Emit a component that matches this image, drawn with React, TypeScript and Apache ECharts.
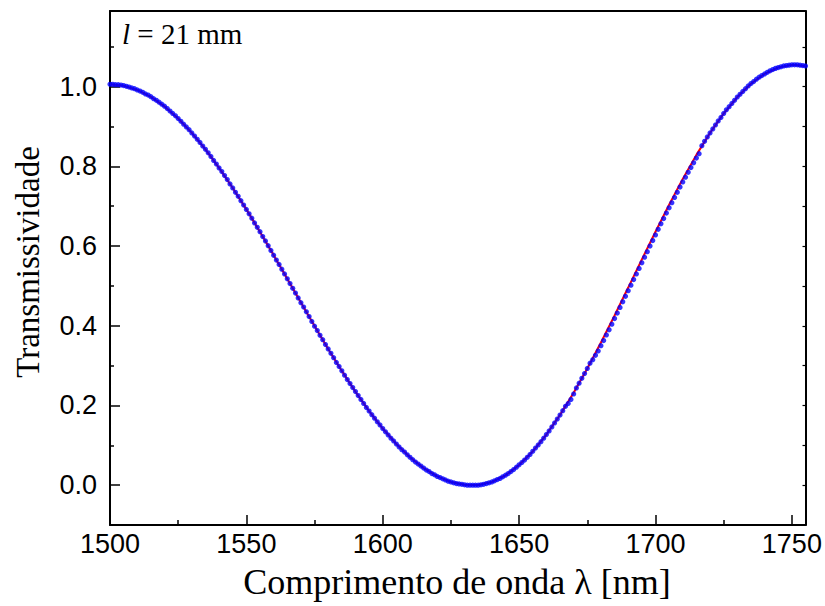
import React, { useEffect, useRef } from "react";
import * as echarts from "echarts";

// Measured data: transmissivity sampled every 1 nm from 1500 nm
const LAMBDA_START = 1500;
const LAMBDA_STEP = 1;
const transmissivity: number[] = [
  1.006, 1.006, 1.005, 1.005, 1.004, 1.003, 1.001, 0.999, 0.997, 0.995,
  0.992, 0.989, 0.986, 0.982, 0.979, 0.975, 0.970, 0.966, 0.961, 0.956,
  0.951, 0.945, 0.939, 0.933, 0.927, 0.920, 0.913, 0.906, 0.899, 0.892,
  0.884, 0.876, 0.868, 0.860, 0.851, 0.843, 0.834, 0.825, 0.815, 0.806,
  0.796, 0.787, 0.777, 0.767, 0.756, 0.746, 0.735, 0.725, 0.714, 0.703,
  0.692, 0.681, 0.670, 0.658, 0.647, 0.636, 0.624, 0.613, 0.601, 0.589,
  0.577, 0.565, 0.554, 0.542, 0.530, 0.518, 0.506, 0.494, 0.482, 0.470,
  0.458, 0.447, 0.435, 0.423, 0.411, 0.399, 0.388, 0.376, 0.365, 0.353,
  0.342, 0.331, 0.320, 0.308, 0.298, 0.287, 0.276, 0.265, 0.255, 0.245,
  0.235, 0.225, 0.215, 0.205, 0.195, 0.186, 0.177, 0.168, 0.159, 0.151,
  0.142, 0.134, 0.126, 0.118, 0.111, 0.103, 0.096, 0.089, 0.083, 0.076,
  0.070, 0.064, 0.058, 0.053, 0.048, 0.043, 0.038, 0.034, 0.029, 0.026,
  0.022, 0.019, 0.016, 0.013, 0.010, 0.008, 0.006, 0.004, 0.003, 0.002,
  0.001, 0.000, 0.000,
  // 1633 nm onward
  0.000, 0.000, 0.000, 0.001, 0.002, 0.004, 0.006, 0.008,
  0.011, 0.014, 0.017, 0.021, 0.025, 0.029, 0.034, 0.039, 0.045, 0.051,
  0.057, 0.063, 0.070, 0.077, 0.085, 0.093, 0.101, 0.109, 0.118, 0.127,
  0.136, 0.146, 0.156, 0.166, 0.176, 0.187, 0.198, 0.205, 0.215, 0.229,
  0.244, 0.256, 0.268, 0.280, 0.293, 0.306, 0.315, 0.326, 0.337, 0.350,
  0.363, 0.377, 0.390, 0.404, 0.418, 0.432, 0.446, 0.460, 0.474, 0.488,
  0.502, 0.516, 0.530, 0.544, 0.558, 0.572, 0.586, 0.600, 0.614, 0.628,
  0.642, 0.656, 0.669, 0.683, 0.696, 0.709, 0.722, 0.735, 0.748, 0.761,
  0.773, 0.785, 0.797, 0.809, 0.821, 0.832, 0.852, 0.863, 0.874, 0.884,
  0.894, 0.904, 0.914, 0.923, 0.933, 0.942, 0.950, 0.958, 0.966, 0.974,
  0.981, 0.988, 0.995, 1.002, 1.008, 1.013, 1.019, 1.024, 1.028, 1.032,
  1.036, 1.040, 1.043, 1.046, 1.048, 1.050, 1.052, 1.053, 1.054, 1.055,
  1.055, 1.055, 1.054, 1.053, 1.052,
];

// Fitted curve (red), every 5 nm
const fitWavelengths: number[] = [
  1500, 1505, 1510, 1515, 1520, 1525, 1530, 1535, 1540, 1545, 1550, 1555, 1560,
  1565, 1570, 1575, 1580, 1585, 1590, 1595, 1600, 1605, 1610, 1615, 1620, 1625,
  1630, 1635, 1640, 1645, 1650, 1655, 1660, 1665, 1670, 1675, 1680, 1685, 1690,
  1695, 1700, 1705, 1710, 1715, 1720, 1725, 1730, 1735, 1740, 1745, 1750, 1755,
];
const fitValues: number[] = [
  1.006, 1.0025, 0.9919, 0.9745, 0.9505, 0.9202, 0.8842, 0.8425, 0.7963, 0.7459,
  0.6921, 0.6356, 0.5773, 0.5179, 0.4583, 0.3994, 0.3419, 0.2867, 0.2345, 0.186,
  0.1421, 0.1033, 0.0699, 0.0427, 0.0219, 0.0079, 0.0009, 0.0004, 0.0079, 0.0248,
  0.0505, 0.0848, 0.127, 0.1764, 0.2319, 0.2928, 0.3579, 0.4259, 0.4959, 0.5663,
  0.6361, 0.7039, 0.7686, 0.8289, 0.884, 0.9327, 0.9741, 1.0075, 1.0324, 1.0482,
  1.0548, 1.052,
];

const X_MIN = 1500;
const X_MAX = 1755;
const Y_MIN = -0.1;
const Y_MAX = 1.19;
const X_MAJOR = [1500, 1550, 1600, 1650, 1700, 1750];
const X_MINOR = [1525, 1575, 1625, 1675, 1725];
const Y_MAJOR = [0, 0.2, 0.4, 0.6, 0.8, 1.0];
const Y_MINOR = [0.1, 0.3, 0.5, 0.7, 0.9, 1.1];
const Y_RIGHT = [0, 0.1, 0.2, 0.3, 0.4, 0.5, 0.6, 0.7, 0.8, 0.9, 1.0, 1.1];

const X_TITLE = "Comprimento de onda λ [nm]";
const Y_TITLE = "Transmissividade";

const SANS = "'Liberation Sans', Arial, Helvetica, sans-serif";
const SERIF = "'Liberation Serif', 'Times New Roman', Times, serif";

export default function App() {
  const ref = useRef<HTMLDivElement>(null);

  useEffect(() => {
    if (!ref.current) return;
    const chart = echarts.init(ref.current, null, { renderer: "svg" });

    const points = transmissivity.map((t, i) => [LAMBDA_START + i * LAMBDA_STEP, t]);
    const fit = fitWavelengths.map((w, i) => [w, fitValues[i]]);

    const black = "#000";
    const baseX = {
      type: "value" as const,
      min: X_MIN,
      max: X_MAX,
      gridIndex: 0,
      splitLine: { show: false },
    };
    const baseY = {
      type: "value" as const,
      min: Y_MIN,
      max: Y_MAX,
      gridIndex: 0,
      splitLine: { show: false },
    };

    chart.setOption({
      animation: false,
      backgroundColor: "#fff",
      grid: {
        left: 110,
        right: 19.5,
        top: 11,
        bottom: 81,
        containLabel: false,
        outerBoundsMode: "none",
      },
      xAxis: [
        {
          ...baseX,
          position: "bottom",
          axisLine: { show: true, onZero: false, lineStyle: { color: black, width: 2 } },
          axisTick: {
            show: true,
            inside: true,
            length: 10,
            lineStyle: { color: black, width: 1.5 },
            customValues: X_MAJOR,
          },
          axisLabel: {
            show: true,
            customValues: X_MAJOR,
            color: black,
            fontSize: 27,
            fontFamily: SANS,
            margin: 5,
            formatter: (v: number) => String(v),
          },
        },
        {
          ...baseX,
          position: "bottom",
          axisLine: { show: false, onZero: false },
          axisTick: {
            show: true,
            inside: true,
            length: 5,
            lineStyle: { color: black, width: 1.5 },
            customValues: X_MINOR,
          },
          axisLabel: { show: false },
        },
        {
          ...baseX,
          position: "top",
          axisLine: { show: true, onZero: false, lineStyle: { color: black, width: 2 } },
          axisTick: { show: false },
          axisLabel: { show: false },
        },
      ],
      yAxis: [
        {
          ...baseY,
          position: "left",
          axisLine: { show: true, onZero: false, lineStyle: { color: black, width: 2 } },
          axisTick: {
            show: true,
            inside: true,
            length: 10,
            lineStyle: { color: black, width: 1.5 },
            customValues: Y_MAJOR,
          },
          axisLabel: {
            show: true,
            customValues: Y_MAJOR,
            color: black,
            fontSize: 27,
            fontFamily: SANS,
            margin: 13,
            formatter: (v: number) => v.toFixed(1),
          },
        },
        {
          ...baseY,
          position: "left",
          axisLine: { show: false, onZero: false },
          axisTick: {
            show: true,
            inside: true,
            length: 4,
            lineStyle: { color: black, width: 1.5 },
            customValues: Y_MINOR,
          },
          axisLabel: { show: false },
        },
        {
          ...baseY,
          position: "right",
          axisLine: { show: true, onZero: false, lineStyle: { color: black, width: 2 } },
          axisTick: {
            show: true,
            inside: true,
            length: 3,
            lineStyle: { color: black, width: 1.2 },
            customValues: Y_RIGHT,
          },
          axisLabel: { show: false },
        },
      ],
      series: [
        {
          type: "line",
          name: "fit",
          xAxisIndex: 0,
          yAxisIndex: 0,
          data: fit,
          showSymbol: false,
          symbol: "none",
          smooth: false,
          lineStyle: { color: "#ff0000", width: 2 },
          z: 2,
        },
        {
          type: "scatter",
          name: "dados",
          xAxisIndex: 0,
          yAxisIndex: 0,
          data: points,
          symbol: "circle",
          symbolSize: 5.2,
          itemStyle: { color: "#0000ff" },
          z: 3,
        },
      ],
      graphic: [
        {
          type: "text",
          x: 457,
          y: 582,
          style: {
            text: X_TITLE,
            fill: black,
            font: `36px ${SERIF}`,
            textAlign: "center",
            textVerticalAlign: "middle",
          },
        },
        {
          type: "text",
          x: 28,
          y: 262,
          rotation: Math.PI / 2,
          style: {
            text: Y_TITLE,
            fill: black,
            font: `33px ${SERIF}`,
            textAlign: "center",
            textVerticalAlign: "middle",
          },
        },
        {
          type: "text",
          x: 122,
          y: 34,
          style: {
            text: "{i|l} = 21 mm",
            fill: black,
            fontSize: 29,
            fontFamily: SERIF,
            textAlign: "left",
            textVerticalAlign: "middle",
            rich: {
              i: { fontStyle: "italic", fontSize: 29, fontFamily: SERIF, fill: black },
            },
          },
        },
      ],
    });

    return () => chart.dispose();
  }, []);

  return (
    <div
      ref={ref}
      style={{ position: "absolute", left: 0, top: 0, width: 825, height: 606, background: "#fff" }}
    />
  );
}
